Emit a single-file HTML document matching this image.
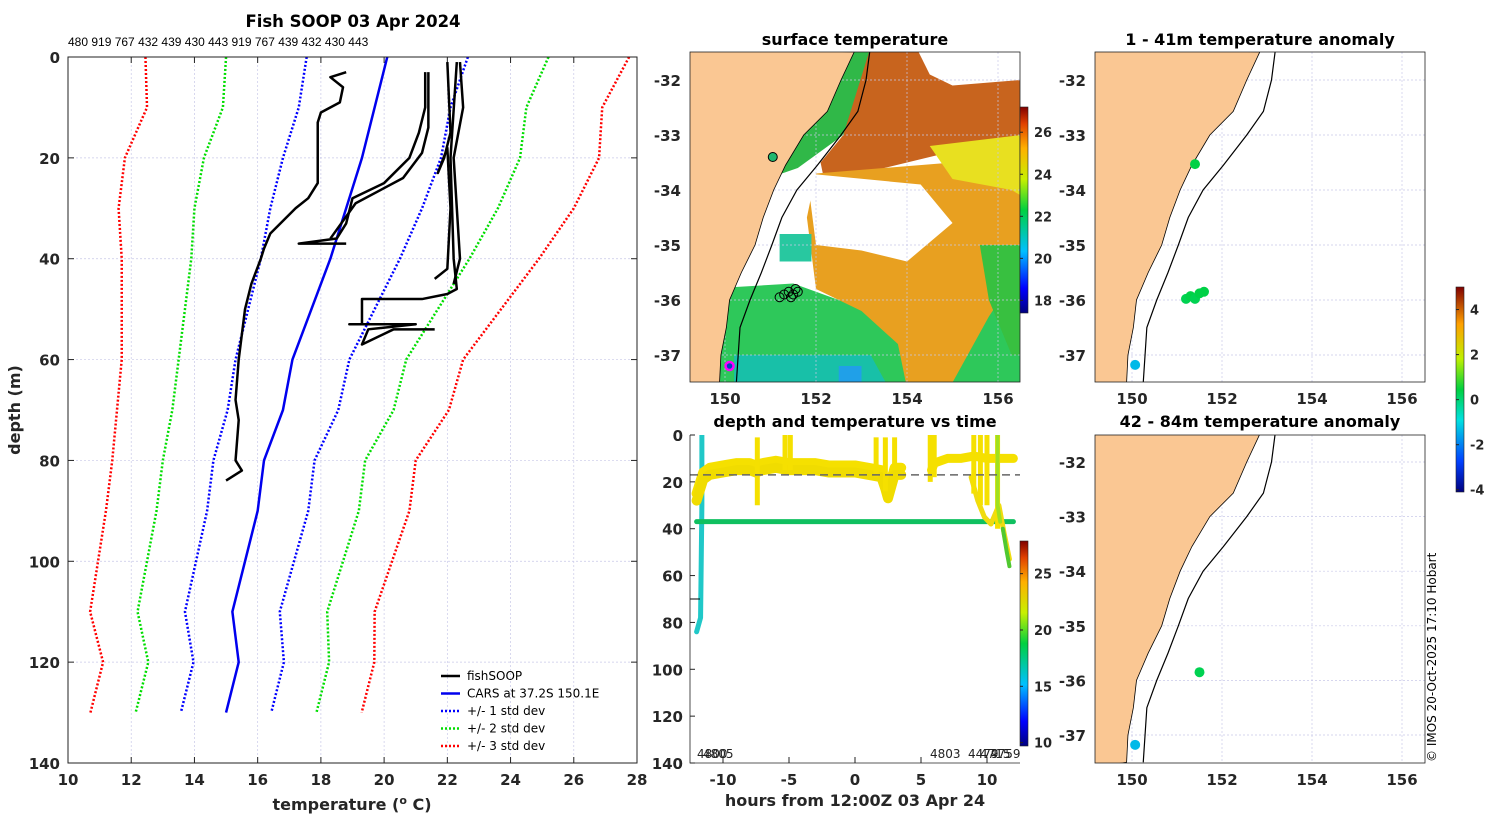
<!DOCTYPE html>
<html><head><meta charset="utf-8"><style>
body{margin:0;background:#fff;}
svg{display:block;font-family:"DejaVu Sans","Liberation Sans",sans-serif;}
</style></head><body>
<svg id="s" width="1500" height="820" viewBox="0 0 1500 820" xmlns="http://www.w3.org/2000/svg">
<defs>
<linearGradient id="jet" x1="0" y1="1" x2="0" y2="0">
<stop offset="0" stop-color="#00007f"/><stop offset="0.12" stop-color="#0000ff"/><stop offset="0.3" stop-color="#00c0ff"/><stop offset="0.5" stop-color="#00d040"/><stop offset="0.65" stop-color="#c8f000"/><stop offset="0.8" stop-color="#ffb000"/><stop offset="0.92" stop-color="#e04000"/><stop offset="1" stop-color="#800000"/>
</linearGradient>
<linearGradient id="jet2" x1="0" y1="1" x2="0" y2="0">
<stop offset="0" stop-color="#00007f"/><stop offset="0.15" stop-color="#0040ff"/><stop offset="0.35" stop-color="#00e0e0"/><stop offset="0.5" stop-color="#00d040"/><stop offset="0.65" stop-color="#c0f000"/><stop offset="0.82" stop-color="#ffa000"/><stop offset="1" stop-color="#800000"/>
</linearGradient>
<clipPath id="cm"><rect x="690" y="52" width="330" height="330"/></clipPath>
<clipPath id="cr1"><rect x="1095" y="52" width="330" height="330"/></clipPath>
<clipPath id="cr2"><rect x="1095" y="435" width="330" height="328"/></clipPath>
<clipPath id="ct"><rect x="690" y="435" width="330" height="328"/></clipPath>
</defs>
<g id="g"></g>
</svg>
<script>
// ---- profile chart data ----
const carsDepths=[0,10,20,30,40,50,60,70,80,90,100,110,120,130];
const carsMean=[20.1,19.7,19.3,18.8,18.3,17.7,17.1,16.8,16.2,16.0,15.6,15.2,15.4,15.0];
const carsStd=[2.55,2.4,2.5,2.4,2.2,2.0,1.8,1.75,1.6,1.6,1.55,1.5,1.43,1.43];
const xTicks=[10,12,14,16,18,20,22,24,26,28];
const yTicks=[0,20,40,60,80,100,120,140];
const profA=[[18.8,3],[18.3,4],[18.7,6],[18.6,9],[18.0,11],[17.9,13],[17.9,25],[17.6,28],[17.2,30],[16.4,35],[16.2,38],[16.1,40],[15.8,45],[15.6,50],[15.5,55],[15.4,60],[15.3,68],[15.4,72],[15.3,80],[15.5,82],[15.0,84]];
const profB=[[21.3,3],[21.3,10],[21.1,15],[20.8,20],[20.0,25],[19.0,28],[18.8,33],[18.5,36],[17.3,37],[18.8,37]];
const profC=[[21.4,3],[21.4,14],[21.2,19],[20.6,24],[19.1,29],[18.3,36]];
const profD=[[22.3,1],[22.1,20],[22.2,40],[22.3,46],[22.0,47],[21.2,48],[19.3,48],[19.3,53],[18.9,53],[21.0,53],[19.5,54],[19.3,57],[20.3,54],[21.6,54]];
const profE=[[22.0,1],[22.1,15],[21.9,20],[21.7,23],[22.0,18],[22.1,30],[22.0,42],[21.6,44]];
const profF=[[22.4,1],[22.5,10],[22.2,20],[22.3,30],[22.4,40],[22.2,45]];
const topLabels="480 919 767 432 439 430 443 919 767 439 432 430 443";
// ---- time chart data ----
const hrTicks=[-10,-5,0,5,10];
const tDepthTicks=[0,20,40,60,80,100,120,140];
const yellowT=[-12,-11.5,-11,-10,-9,-8,-7.5,-7,-6,-5,-4,-3,-2,-1,0,1,2,2.3,2.5,3,3.5];
const yellowD=[25,16,14,13,12,12,13,12,11,12,12,12,13,13,13,14,15,20,24,14,14];
const yellowT2=[5.8,6,7,8,9,10,11,12];
const yellowD2=[15,12,10,10,9,10,10,10];
const yellowT3=[8.8,9.3,9.8,10.3,10.9,11.3,11.7];
const yellowD3=[18,28,35,38,30,42,53];
const spikeT=[-7.4,-5.3,-4.9,1.6,2.3,3.0,5.7,6.0,9.0,9.5,10.0,10.8];
const spikeTop=[1,0,0,1,1,1,0,0,0,0,0,0];
const spikeBot=[30,15,15,18,24,15,20,18,25,30,30,40];
const greenT=[-12,12];
const greenD=[37,37];
const cyanT=[-11.6,-11.6,-11.7,-12];
const cyanD=[0,30,78,84];
const dashDepth=17;
// ---- map data ----
const coast=[[152.84,-31.49],[152.55,-32.0],[152.25,-32.57],[151.73,-33.0],[151.33,-33.55],[151.07,-34.0],[150.84,-34.5],[150.66,-35.0],[150.36,-35.5],[150.1,-36.0],[150.03,-36.5],[149.91,-37.0],[149.88,-37.5]];
const isobath=[[153.18,-31.49],[153.1,-32.0],[152.92,-32.57],[152.55,-33.0],[152.03,-33.55],[151.58,-34.0],[151.25,-34.5],[151.03,-35.0],[150.8,-35.5],[150.55,-36.0],[150.33,-36.5],[150.29,-37.0],[150.25,-37.5]];
const lonTicks=[150,152,154,156];
const latTicks=[-32,-33,-34,-35,-36,-37];
const anomTopLon=[151.4,151.2,151.3,151.4,151.5,151.6,150.07];
const anomTopLat=[-33.53,-35.98,-35.93,-35.98,-35.88,-35.85,-37.18];
const anomTopVal=[0.3,0.2,0.3,0.2,0.3,0.3,-1.5];
const anomBotLon=[151.5,150.07];
const anomBotLat=[-35.85,-37.18];
const anomBotVal=[0.2,-1.5];
const sstCircLon=[151.2,151.3,151.4,151.5,151.55,151.6,151.45,151.05];
const sstCircLat=[-35.95,-35.9,-35.85,-35.9,-35.8,-35.85,-35.95,-33.4];
</script>
<script>
const NS="http://www.w3.org/2000/svg";
const G=document.getElementById('g');
function mk(tag,attrs,parent,text){const e=document.createElementNS(NS,tag);for(const k in attrs)e.setAttribute(k,attrs[k]);if(text!==undefined)e.textContent=text;(parent||G).appendChild(e);return e;}

// ================= Profile chart =================
const px=t=>68+(t-10)*(569/18), py=d=>57+d*(706/140);
let e;
e=mk('rect',{x:68,y:57,width:569,height:706,fill:'#fff'});


xTicks.forEach(t=>{if(t>10&&t<28){e=mk('line',{x1:px(t),y1:57,x2:px(t),y2:763,stroke:'#c8c8e8','stroke-width':0.7,'stroke-dasharray':'2,2'});

}
 mk('line',{x1:px(t),y1:763,x2:px(t),y2:757,stroke:'#222'});mk('line',{x1:px(t),y1:57,x2:px(t),y2:63,stroke:'#222'});
 e=mk('text',{x:px(t),y:785,'text-anchor':'middle','font-size':15,'font-weight':'bold',fill:'#262626'},G,String(t));
 
 });
yTicks.forEach(d=>{if(d>0&&d<140){e=mk('line',{x1:68,y1:py(d),x2:637,y2:py(d),stroke:'#c8c8e8','stroke-width':0.7,'stroke-dasharray':'2,2'});

}
 mk('line',{x1:68,y1:py(d),x2:74,y2:py(d),stroke:'#222'});mk('line',{x1:637,y1:py(d),x2:631,y2:py(d),stroke:'#222'});
 e=mk('text',{x:60,y:py(d)+6,'text-anchor':'end','font-size':15,'font-weight':'bold',fill:'#262626'},G,String(d));
 
 });
function line(ts,ds,col,w,dash,name){const pts=ts.map((t,i)=>px(t)+','+py(ds[i])).join(' ');
 const l=mk('polyline',{points:pts,fill:'none',stroke:col,'stroke-width':w,'stroke-dasharray':dash||'none','stroke-linejoin':'round'});
 
 }
[[3,'#ff0000','std-3-line'],[2,'#00dd00','std-2-line'],[1,'#0000ff','std-1-line']].forEach(([k,c,n])=>{
 line(carsDepths.map((d,i)=>carsMean[i]-k*carsStd[i]),carsDepths,c,2.5,'2,2',n+'-lower');
 line(carsDepths.map((d,i)=>carsMean[i]+k*carsStd[i]),carsDepths,c,2.5,'2,2',n+'-upper');});
line(carsMean,carsDepths,'#0000ee',2.5,null,'cars-mean-line');
[profA,profB,profC,profD,profE,profF].forEach((p,i)=>line(p.map(a=>a[0]),p.map(a=>a[1]),'#000',2.5,null,'fishsoop-profile-'+(i+1)));
e=mk('rect',{x:68,y:57,width:569,height:706,fill:'none',stroke:'#222','stroke-width':1});


e=mk('text',{x:353,y:27,'text-anchor':'middle','font-size':16.5,'font-weight':'bold'},G,'Fish SOOP 03 Apr 2024');


e=mk('text',{x:68,y:46,'font-size':12,fill:'#000','font-family':'Liberation Sans, sans-serif'},G,topLabels);


e=mk('text',{x:352,y:810,'text-anchor':'middle','font-size':16,'font-weight':'bold',fill:'#262626'},G,'');
e.innerHTML='temperature (<tspan dy="-6" font-size="11">o</tspan><tspan dy="6"> C)</tspan>';


e=mk('text',{x:20,y:410,'text-anchor':'middle','font-size':16,'font-weight':'bold',fill:'#262626',transform:'rotate(-90 20 410)'},G,'depth (m)');


const leg=[['fishSOOP','#000',null],['CARS at 37.2S 150.1E','#0000ee',null],['+/- 1 std dev','#0000ff','2,2'],['+/- 2 std dev','#00dd00','2,2'],['+/- 3 std dev','#ff0000','2,2']];
leg.forEach((l,i)=>{const y=676+i*17.5;
 e=mk('line',{x1:441,y1:y,x2:460,y2:y,stroke:l[1],'stroke-width':2.5,'stroke-dasharray':l[2]||'none'});
 
 
 e=mk('text',{x:467,y:y+4,'font-size':12},G,l[0]);
 
 });

// ================= Maps =================
function drawMap(x0,y0,h,c150,sx,ym32,sy,clip,name){
 const X=l=>c150+(l-150)*sx, Y=a=>ym32+(-32-a)*sy;
 const g=mk('g',{'clip-path':'url(#'+clip+')'});
 
 
 mk('rect',{x:x0,y:y0,width:330,height:h,fill:'#fff'},g);
 return {X,Y,g};}
function gridAndLand(m,x0,y0,h){
 const {X,Y,g}=m;
 lonTicks.forEach(l=>mk('line',{x1:X(l),y1:y0,x2:X(l),y2:y0+h,stroke:'#c8c8e8','stroke-width':0.7,'stroke-dasharray':'2,2'},g));
 latTicks.forEach(a=>mk('line',{x1:x0,y1:Y(a),x2:x0+330,y2:Y(a),stroke:'#c8c8e8','stroke-width':0.7,'stroke-dasharray':'2,2'},g));
 const cpts=coast.map(p=>X(p[0])+','+Y(p[1]));
 let land=mk('polygon',{points:cpts.join(' ')+' '+(x0-5)+','+(y0+h+5)+' '+(x0-5)+','+(y0-5),fill:'#fac793',stroke:'#000','stroke-width':0.8},g);
 
 
 let iso=mk('polyline',{points:isobath.map(p=>X(p[0])+','+Y(p[1])).join(' '),fill:'none',stroke:'#000','stroke-width':1.2},g);
 
 }
function mapTicks(m,x0,y0,h,showLon){
 const {X,Y}=m;
 let e=mk('rect',{x:x0,y:y0,width:330,height:h,fill:'none',stroke:'#222','stroke-width':0.8});
 
 
 latTicks.forEach(a=>{if(Y(a)>y0&&Y(a)<y0+h){
  e=mk('text',{x:x0-9,y:Y(a)+6,'text-anchor':'end','font-size':15,'font-weight':'bold',fill:'#262626'},G,String(a));
  
  }});
 if(showLon)lonTicks.forEach(l=>{e=mk('text',{x:X(l),y:y0+h+22,'text-anchor':'middle','font-size':15,'font-weight':'bold',fill:'#262626'},G,String(l));
  
  });}

const mS=drawMap(690,52,330,725,45.5,80,55,'cm','surface-temperature-map');
(function(){const {X,Y,g}=mS;
 const P=(arr,col,n)=>{const p=mk('polygon',{points:arr.map(q=>X(q[0])+','+Y(q[1])).join(' '),fill:col},g);
  
  };
 P([[149.5,-37.6],[149.5,-35.8],[151.5,-35.7],[152.5,-36.0],[153.5,-36.2],[154.5,-36.8],[155.3,-36.5],[155.8,-35.9],[157.3,-35.6],[157.3,-37.6]],'#2ec85a','sst-south-green');
 P([[150.2,-37.6],[150.2,-37.0],[153.2,-37.0],[153.6,-37.6]],'#18c0a8','sst-cool-patch');
 P([[152.5,-37.6],[152.5,-37.2],[153.0,-37.2],[153.0,-37.6]],'#20a0e8','sst-cold-patch');
 P([[153.1,-31.4],[157.3,-31.4],[157.3,-33.0],[155.0,-33.3],[153.5,-33.6],[152.3,-34.3],[152.1,-33.5],[152.6,-33.0]],'#c8641e','sst-north-warm');
 P([[154.2,-31.4],[156.5,-31.4],[156.5,-32.0],[155.0,-32.1],[154.5,-31.9]],'#ffffff','sst-cloud-north');
 P([[152.0,-33.7],[155.0,-33.5],[156.5,-33.3],[157.3,-33.4],[157.3,-35.5],[156.2,-35.8],[155.8,-36.3],[155.0,-37.5],[154.0,-37.6],[153.8,-36.8],[153.0,-36.2],[152.0,-35.8],[151.8,-34.5]],'#e8a020','sst-eddy-orange');
 P([[154.5,-33.2],[156.5,-33.0],[157.3,-33.2],[157.3,-34.5],[156.3,-34.0],[155.0,-33.8]],'#e8e020','sst-front-yellow');
 P([[155.6,-35.0],[157.3,-35.0],[157.3,-37.0],[156.3,-37.0],[155.8,-36.0]],'#38c040','sst-east-green');
 P([[151.8,-33.7],[154.3,-33.9],[155.0,-34.6],[154.0,-35.3],[153.0,-35.1],[152.0,-35.0]],'#ffffff','sst-cloud-centre');
 P([[150.5,-33.6],[151.5,-33.6],[151.3,-34.5],[150.8,-35.7],[150.1,-35.7],[150.2,-34.0]],'#ffffff','sst-cloud-coast');
 P([[151.2,-34.8],[151.9,-34.8],[151.9,-35.3],[151.2,-35.3]],'#28c8a0','sst-teal-patch');
 P([[152.2,-31.4],[153.2,-31.4],[152.6,-33.0],[151.6,-33.6],[150.9,-33.8],[151.2,-33.0]],'#30b848','sst-shelf-green');
 gridAndLand(mS,690,52,330);
 sstCircLon.forEach((l,i)=>{const c=mk('circle',{cx:X(l),cy:Y(sstCircLat[i]),r:4.5,fill:i==7?'#20b870':'none',stroke:'#000','stroke-width':1},g);
  
  });
 const c=mk('circle',{cx:X(150.1),cy:Y(-37.2),r:4,fill:'#0040c0',stroke:'#ff00ff','stroke-width':2.5},g);
 
 
})();
mapTicks(mS,690,52,330,true);
e=mk('text',{x:855,y:45,'text-anchor':'middle','font-size':16,'font-weight':'bold'},G,'surface temperature');


function cbar(x,y0,y1,grad,ticks,vlo,vhi,name){
 let e=mk('rect',{x:x,y:y0,width:8,height:y1-y0,fill:'url(#'+grad+')',stroke:'#222','stroke-width':0.6});
 
 
 ticks.forEach(t=>{const y=y1-(t-vlo)/(vhi-vlo)*(y1-y0);mk('line',{x1:x,y1:y,x2:x+3,y2:y,stroke:'#222'});
  e=mk('text',{x:x+14,y:y+5,'font-size':13,'font-weight':'bold',fill:'#262626'},G,String(t));
  
  });}
cbar(1020,107,313,'jet',[18,20,22,24,26],17.4,27.2,'sst-colorbar');

function anomColor(v){const t=(v+4.3)/9.3;
 const stops=[[0,[0,0,127]],[0.15,[0,64,255]],[0.35,[0,224,224]],[0.5,[0,208,64]],[0.65,[192,240,0]],[0.82,[255,160,0]],[1,[128,0,0]]];
 for(let i=1;i<stops.length;i++)if(t<=stops[i][0]){const a=stops[i-1],b=stops[i],f=(t-a[0])/(b[0]-a[0]);return 'rgb('+a[1].map((c,j)=>Math.round(c+(b[1][j]-c)*f)).join(',')+')';}
 return 'rgb(128,0,0)';}
const m1=drawMap(1095,52,330,1132,45,80,55,'cr1','anomaly-map-shallow');
gridAndLand(m1,1095,52,330);
anomTopLon.forEach((l,i)=>{const c=mk('circle',{cx:m1.X(l),cy:m1.Y(anomTopLat[i]),r:5,fill:anomColor(anomTopVal[i])},m1.g);
 
 });
mapTicks(m1,1095,52,330,true);
e=mk('text',{x:1260,y:45,'text-anchor':'middle','font-size':16,'font-weight':'bold'},G,'1 - 41m temperature anomaly');


const m2=drawMap(1095,435,328,1132,45,462,54.6,'cr2','anomaly-map-deep');
gridAndLand(m2,1095,435,328);
anomBotLon.forEach((l,i)=>{const c=mk('circle',{cx:m2.X(l),cy:m2.Y(anomBotLat[i]),r:5,fill:anomColor(anomBotVal[i])},m2.g);
 
 });
mapTicks(m2,1095,435,328,true);
e=mk('text',{x:1260,y:427,'text-anchor':'middle','font-size':16,'font-weight':'bold'},G,'42 - 84m temperature anomaly');


cbar(1456,287,492,'jet2',[-4,-2,0,2,4],-4.1,5.0,'anomaly-colorbar');

// ================= time chart =================
const tx=h=>855+h*13.2, ty=d=>435+d*(328/140);
e=mk('rect',{x:690,y:435,width:330,height:328,fill:'#fff'});


const tg=mk('g',{'clip-path':'url(#ct)'});


function tl(ts,ds,col,w,name){const p=mk('polyline',{points:ts.map((t,i)=>tx(t)+','+ty(ds[i])).join(' '),fill:'none',stroke:col,'stroke-width':w,'stroke-linejoin':'round','stroke-linecap':'round'},tg);
 
 }
tl(cyanT,cyanD,'#20c8c8',5,'deep-logger-descent');
tl(greenT,greenD,'#10c060',5,'bottom-logger-track');
tl(yellowT,yellowD,'#f5e000',10,'shallow-logger-track');
tl(yellowT,yellowD.map(d=>d+3),'#f0dc00',10,'shallow-logger-track-2');
tl(yellowT2,yellowD2,'#f5e000',9,'shallow-logger-track-3');
tl(yellowT3,yellowD3,'#f0dc10',5,'shallow-logger-descent');
spikeT.forEach((t,i)=>{const l=mk('line',{x1:tx(t),y1:ty(spikeTop[i]),x2:tx(t),y2:ty(spikeBot[i]),stroke:'#f5e000','stroke-width':5},tg);
 
 });
tl([10.8,10.8,11.0],[0,30,37],'#a0e020',4,'logger-vertical');
tl([11.2,11.5,11.7],[40,50,56],'#50c830',4,'logger-tail');
e=mk('line',{x1:690,y1:ty(dashDepth),x2:1020,y2:ty(dashDepth),stroke:'#666','stroke-width':1.5,'stroke-dasharray':'8,5'});


e=mk('line',{x1:690,y1:ty(70),x2:700,y2:ty(70),stroke:'#000','stroke-width':1});
hrTicks.forEach(h=>{mk('line',{x1:tx(h),y1:763,x2:tx(h),y2:757,stroke:'#222'});
 e=mk('text',{x:tx(h),y:785,'text-anchor':'middle','font-size':15,'font-weight':'bold',fill:'#262626'},G,String(h));
 
 });
tDepthTicks.forEach(d=>{mk('line',{x1:690,y1:ty(d),x2:695,y2:ty(d),stroke:'#222'});
 e=mk('text',{x:683,y:ty(d)+6,'text-anchor':'end','font-size':15,'font-weight':'bold',fill:'#262626'},G,String(d));
 
 });
e=mk('polyline',{points:'690,435 690,763 1020,763',fill:'none',stroke:'#222','stroke-width':0.8});


[['4800',697],['4805',703],['4803',930],['4479',968],['4715',980],['4759',990]].forEach(([s,x])=>{e=mk('text',{x:x,y:758,'font-size':12,fill:'#222'},G,s);
 
 });
e=mk('text',{x:855,y:427,'text-anchor':'middle','font-size':16,'font-weight':'bold'},G,'depth and temperature vs time');


e=mk('text',{x:855,y:806,'text-anchor':'middle','font-size':16,'font-weight':'bold',fill:'#262626'},G,'hours from 12:00Z 03 Apr 24');


cbar(1020,541,746,'jet',[10,15,20,25],9.7,27.9,'time-colorbar');
e=mk('text',{x:1436,y:762,'font-size':12,fill:'#000',transform:'rotate(-90 1436 762)'},G,'© IMOS 20-Oct-2025 17:10 Hobart');


</script>
</body></html>
